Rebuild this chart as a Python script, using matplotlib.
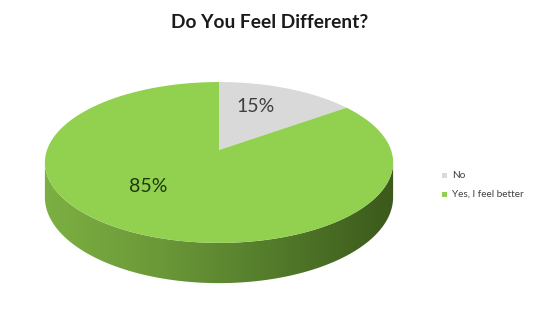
import numpy as np
import matplotlib.pyplot as plt
from matplotlib.patches import Polygon
from matplotlib.colors import LinearSegmentedColormap

# chart data
labels = ["No", "Yes, I feel better"]
values = [15, 85]
colors = ["#d9d9d9", "#92d050"]
title = "Do You Feel Different?"

plt.rcParams['font.family'] = ['Lato', 'DejaVu Sans']

# 3D pie geometry in pixel space (y down)
cx, cy = 219, 150      # apex of the pie on screen
A, B = 172, 78.5       # radii of the top face
k = 0.155              # perspective strength
depth = 34


def project(phi, drop=0.0):
    # phi measured clockwise from 12 o'clock
    u, v = np.sin(phi), np.cos(phi)
    w = 1 + k * v
    return cx + A * u / w, cy - B * v / w + drop / w


fig = plt.figure(figsize=(5.4, 3.36), dpi=100)
ax = fig.add_axes([0, 0, 1, 1])
ax.set_xlim(0, 540)
ax.set_ylim(336, 0)
ax.axis('off')

# side wall (front part, all of it lies in the big slice)
phi_a = np.arccos(-k)
side_phi = np.linspace(phi_a, 2 * np.pi - phi_a, 200)
tx, ty = project(side_phi)
bx, by = project(side_phi[::-1], depth)
side = Polygon(np.column_stack([np.r_[tx, bx], np.r_[ty, by]]),
               closed=True, facecolor='none', edgecolor='none')
ax.add_patch(side)
side_cmap = LinearSegmentedColormap.from_list(
    'side', ['#3b591b', '#527a2a', '#6b9838', '#7cb042'])
grad = np.linspace(0, 1, 256).reshape(1, -1)
img = ax.imshow(grad, cmap=side_cmap, extent=[tx.max() + 2, tx.min() - 2, by.max() + 2, ty.min() - 2],
                aspect='auto', zorder=1)
img.set_clip_path(side)

# top face wedges
fracs = np.array(values, dtype=float) / sum(values)
start = 0.0
label_pos = [(256, 106), (148, 187)]
label_colors = ['#404040', '#1d3a0c']
for frac, col, pos, lc in zip(fracs, colors, label_pos, label_colors):
    phis = np.linspace(start * 2 * np.pi, (start + frac) * 2 * np.pi, 200)
    px, py = project(phis)
    wedge = Polygon(np.column_stack([np.r_[cx, px], np.r_[cy, py]]),
                    closed=True, facecolor=col, edgecolor='none', zorder=2)
    ax.add_patch(wedge)
    ax.text(pos[0], pos[1], f"{round(frac * 100)}%", ha='center', va='center',
            fontsize=14, color=lc, zorder=3)
    start += frac

ax.text(270, 22, title, ha='center', va='center', fontsize=13.8,
        fontweight='bold', color='#1a1a1a')

# legend
for i, (lab, col) in enumerate(zip(labels, colors)):
    y = 175 + i * 19
    ax.add_patch(Polygon([[442, y - 2.5], [447, y - 2.5], [447, y + 2.5], [442, y + 2.5]],
                         closed=True, facecolor=col, edgecolor='none'))
    ax.text(452, y, lab, ha='left', va='center', fontsize=7.2, color='#404040')

fig.savefig('out.png', dpi=100)
